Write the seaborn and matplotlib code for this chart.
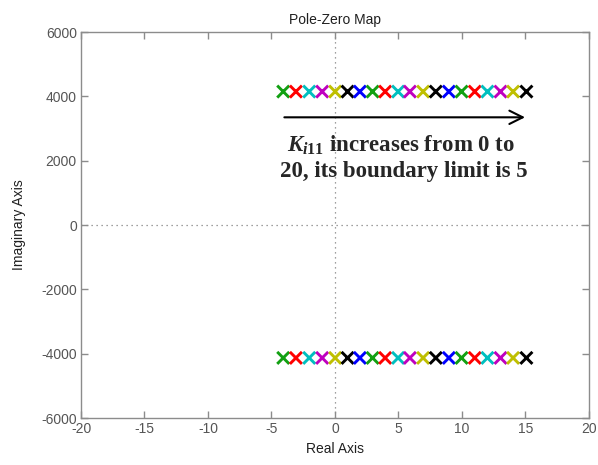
import matplotlib
matplotlib.use("Agg")
import matplotlib.pyplot as plt
import numpy as np
import pandas as pd
import seaborn as sns

# Closed-loop pole locations for K_i11 = 0 ... 20 (complex-conjugate pairs)
real_parts = [-4.07, -3.07, -2.02, -1.00, 0.02, 1.00, 1.97, 2.97, 3.96, 4.98,
              5.91, 6.95, 7.95, 8.98, 9.98, 11.02, 12.02, 13.05, 14.04, 15.09]
imag_upper = [4150] * 20
imag_lower = [-4130] * 20
pole_colors = ["#12a012", "#ff0000", "#00bfbf", "#bf00bf", "#bfbf00", "#000000", "#0000ff"]

x_ticks = [-20, -15, -10, -5, 0, 5, 10, 15, 20]
y_ticks = [-6000, -4000, -2000, 0, 2000, 4000, 6000]

sns.set_style("white")
plt.rcParams["font.family"] = ["Liberation Sans", "DejaVu Sans"]
plt.rcParams["mathtext.fontset"] = "custom"
plt.rcParams["mathtext.it"] = "Liberation Serif:italic:bold"
plt.rcParams["mathtext.rm"] = "Liberation Serif:bold"

n = len(real_parts)
df = pd.DataFrame({
    "real": real_parts + real_parts,
    "imag": imag_upper + imag_lower,
    "k": list(range(n)) * 2,
})
palette = [pole_colors[i % len(pole_colors)] for i in range(n)]

fig = plt.figure(figsize=(5.98, 4.65), dpi=100)
ax = fig.add_axes([0.1355, 0.101, 0.849, 0.830])

ax.axvline(0, color="#808080", lw=0.9, ls=(0, (1, 3)), zorder=0)
ax.axhline(0, color="#808080", lw=0.9, ls=(0, (1, 3)), zorder=0)

sns.scatterplot(data=df, x="real", y="imag", hue="k", palette=palette,
                marker="x", s=75, linewidth=2.1, legend=False, ax=ax, zorder=3)

ax.set_xlim(-20, 20)
ax.set_ylim(-6000, 6000)
ax.set_xticks(x_ticks)
ax.set_yticks(y_ticks)
ax.set_xticklabels([str(v) for v in x_ticks])
ax.set_yticklabels([str(v) for v in y_ticks])

for sp in ax.spines.values():
    sp.set_color("#8c8c8c")
    sp.set_linewidth(1.0)
    sp.set_visible(True)
ax.tick_params(direction="in", length=5, width=1.0, color="#8c8c8c",
               labelcolor="#555555", labelsize=10, top=True, right=True,
               bottom=True, left=True, pad=3)

ax.set_xlabel("Real Axis", fontsize=10, color="#202020", labelpad=4)
ax.set_ylabel("Imaginary Axis", fontsize=10, color="#202020", labelpad=11)
ax.set_title("Pole-Zero Map", fontsize=10, color="#202020", pad=6)

# Direction of increasing gain
ax.annotate("", xy=(15.2, 3350), xytext=(-4.2, 3350),
            arrowprops=dict(arrowstyle="->", color="black", lw=1.5,
                            mutation_scale=24))
ax.text(5.2, 2480, r"$K_{i11}$ increases from 0 to", ha="center", va="center",
        fontsize=16.5, fontweight="bold", family="Liberation Serif")
ax.text(5.45, 1680, "20, its boundary limit is 5", ha="center", va="center",
        fontsize=16.5, fontweight="bold", family="Liberation Serif")

fig.savefig("out.png", dpi=100)
